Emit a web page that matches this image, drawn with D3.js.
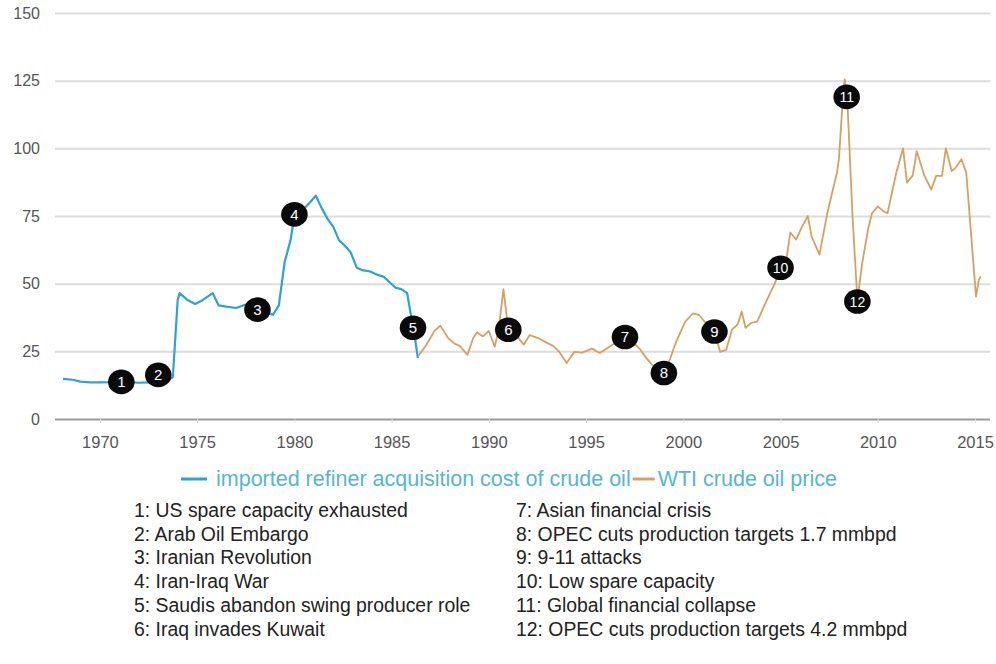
<!DOCTYPE html>
<html><head><meta charset="utf-8">
<script src="https://cdn.jsdelivr.net/npm/d3@7"></script>
<style>body{margin:0;background:#fff;}svg{display:block;}</style>
</head><body>
<script>
const blueYears = [1968.1,1968.6,1969.0,1969.5,1970.0,1970.5,1971.0,1971.5,1972.0,1972.5,1973.0,1973.5,1973.75,1974.0,1974.1,1974.5,1974.9,1975.3,1975.8,1976.1,1976.5,1977.0,1977.5,1978.0,1978.5,1978.9,1979.2,1979.5,1979.8,1980.0,1980.4,1980.8,1981.1,1981.4,1981.7,1982.0,1982.3,1982.6,1982.9,1983.2,1983.5,1983.9,1984.2,1984.6,1984.9,1985.2,1985.5,1985.8,1986.0,1986.2,1986.35];
const blueValues = [14.8,14.5,13.8,13.5,13.5,13.6,13.8,13.6,13.4,13.5,13.8,14.2,15.5,44,46.5,44,42.5,44,46.5,42,41.5,41,42.3,41.5,39.5,38.5,42,58,66,75,77,80,82.5,78,74,71,66,64,61.5,56,55,54.5,53.5,52.5,50.5,48.5,48,46.5,38,30,22.5];
const wtiYears = [1986.4,1986.8,1987.2,1987.5,1987.9,1988.2,1988.5,1988.9,1989.2,1989.4,1989.7,1990.0,1990.3,1990.5,1990.75,1991.0,1991.4,1991.8,1992.1,1992.5,1992.9,1993.3,1993.6,1994.0,1994.4,1994.8,1995.3,1995.7,1996.2,1996.6,1997.0,1997.4,1997.8,1998.1,1998.4,1998.8,1999.0,1999.3,1999.6,2000.1,2000.5,2000.8,2001.2,2001.6,2001.9,2002.2,2002.5,2002.8,2003.0,2003.2,2003.5,2003.8,2004.3,2004.7,2005.0,2005.3,2005.5,2005.8,2006.1,2006.4,2006.6,2007.0,2007.4,2007.9,2008.0,2008.2,2008.3,2008.45,2008.7,2008.95,2009.2,2009.5,2009.7,2010.0,2010.3,2010.5,2010.95,2011.3,2011.5,2011.8,2012.0,2012.4,2012.75,2013.0,2013.3,2013.5,2013.8,2014.0,2014.3,2014.55,2015.05,2015.2,2015.3];
const wtiValues = [23.5,27.5,32.5,34.5,30,28,27,23.7,30,32,30.5,32.5,26.7,33,48,33,31,27.5,31,30,28.5,27,25,20.7,24.8,24.5,26,24.4,26.7,28.5,30.3,28.5,25.5,22.5,20,18,17,21.8,28,36,39,38.5,35,32,24.8,25.5,33,35,39.7,33.7,35.5,36,44,50,55.9,59,68.9,66.3,71,75,67.4,60.7,76,91,96,118,125.5,115,75,44,57.7,70,76,78.5,76.7,76,91,100,87.3,90,99,89.8,84.8,89.8,89.8,100,91.6,92.8,96,91,45.2,51.5,52.7];
const eventYears = [1971.1,1973.0,1978.1,1980.0,1986.1,1991.0,1997.0,1999.0,2001.6,2005.0,2008.4,2008.95];
const eventValues = [13.7,16.3,40.4,75.6,33.7,33,30.3,17,32.3,55.9,119,43.4];
const eventLabels = ["1","2","3","4","5","6","7","8","9","10","11","12"];
const eventNotes = ["1: US spare capacity exhausted","2: Arab Oil Embargo","3: Iranian Revolution","4: Iran-Iraq War","5: Saudis abandon swing producer role","6: Iraq invades Kuwait","7: Asian financial crisis","8: OPEC cuts production targets 1.7 mmbpd","9: 9-11 attacks","10: Low spare capacity","11: Global financial collapse","12: OPEC cuts production targets 4.2 mmbpd"];
const yTicks = [0,25,50,75,100,125,150];
const xTicks = [1970,1975,1980,1985,1990,1995,2000,2005,2010,2015];
const seriesNames = ["imported refiner acquisition cost of crude oil","WTI crude oil price"];

const W = 996, H = 664;
const FONT = "Liberation Sans, Arial, sans-serif";
const svg = d3.select("body").append("svg").attr("width", W).attr("height", H);
const x = d3.scaleLinear().domain([1967.69, 2015.77]).range([55, 990]);
const y = d3.scaleLinear().domain([0, 150]).range([419, 13]);

const yAxis = d3.axisLeft(y).tickValues(yTicks).tickSize(-(990 - 55)).tickPadding(15);
const gy = svg.append("g").attr("transform", "translate(55,0)").call(yAxis);
gy.select(".domain").remove();
gy.selectAll(".tick line").attr("stroke", d => d === 0 ? "#9a9a9a" : "#dcdcdc").attr("stroke-width", 2);
gy.selectAll(".tick text").attr("font-family", FONT).attr("font-size", 16).attr("fill", "#555");

const xAxis = d3.axisBottom(x).tickValues(xTicks).tickFormat(d3.format("d")).tickSize(4).tickPadding(13);
const gx = svg.append("g").attr("transform", "translate(0,419)").call(xAxis);
gx.select(".domain").remove();
gx.selectAll(".tick line").attr("stroke", "#ddd");
gx.selectAll(".tick text").attr("font-family", FONT).attr("font-size", 16.5).attr("fill", "#555");

const line = d3.line().x(d => x(d[0])).y(d => y(d[1]));
svg.append("path").datum(blueYears.map((t, i) => [t, blueValues[i]]))
  .attr("d", line).attr("fill", "none").attr("stroke", "#2ba3d3").attr("stroke-width", 2.2).attr("stroke-linejoin", "round");
svg.append("path").datum(wtiYears.map((t, i) => [t, wtiValues[i]]))
  .attr("d", line).attr("fill", "none").attr("stroke", "#d6a063").attr("stroke-width", 1.8).attr("stroke-linejoin", "round");

const ev = svg.append("g").selectAll("g").data(eventLabels).join("g")
  .attr("transform", (d, i) => `translate(${x(eventYears[i])},${y(eventValues[i])})`);
ev.append("ellipse").attr("rx", 13.3).attr("ry", 12.3).attr("fill", "#0a0a0a");
ev.append("text").text(d => d).attr("text-anchor", "middle").attr("dy", "0.36em")
  .attr("fill", "#fff").attr("font-family", FONT)
  .attr("font-size", d => d.length > 1 ? 14 : 15);

// legend
const lg = svg.append("g").attr("font-family", FONT).attr("font-size", 21.5);
lg.append("line").attr("x1", 181).attr("x2", 207).attr("y1", 479).attr("y2", 479).attr("stroke", "#2ba3d3").attr("stroke-width", 3);
const t1 = lg.append("text").attr("x", 216).attr("y", 486).attr("fill", "#56b6d2").text(seriesNames[0]);
const w1 = t1.node().getComputedTextLength();
lg.append("line").attr("x1", 218 + w1).attr("x2", 240 + w1).attr("y1", 479).attr("y2", 479).attr("stroke", "#d6a063").attr("stroke-width", 3);
lg.append("text").attr("x", 243 + w1).attr("y", 486).attr("fill", "#56b6d2").text(seriesNames[1]);

// notes
const notes = svg.append("g").attr("font-family", FONT).attr("font-size", 19.4).attr("fill", "#222");
notes.selectAll("text").data(eventNotes).join("text")
  .attr("x", (d, i) => i < 6 ? 134 : 516)
  .attr("y", (d, i) => 517 + (i % 6) * 23.7)
  .text(d => d);
</script>
</body></html>
